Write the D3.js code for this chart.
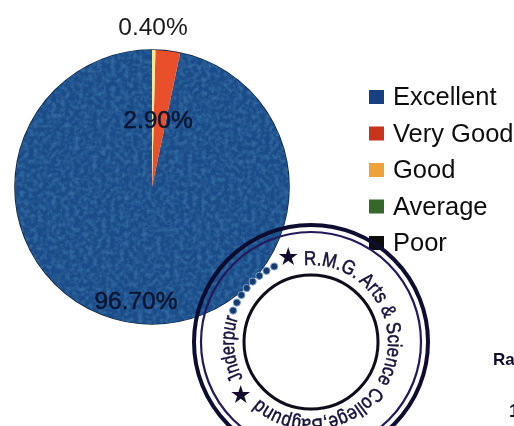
<!DOCTYPE html>
<html lang="en">
<head>
    <meta charset="UTF-8">
    <title>Feedback pie</title>
    <script src="https://d3js.org/d3.v7.min.js"></script>
    <style>
        html, body { margin: 0; padding: 0; background: #fff; overflow: hidden; }
        svg { display: block; font-family: 'Liberation Sans', Arial, sans-serif; }
    </style>
</head>
<body>
    <svg width="514" height="426"></svg>
    <script>
        // values
        const categories = ["Excellent", "Very Good", "Good", "Average", "Poor"];
        const percents = [96.7, 2.9, 0.4, 0, 0];
        const labels = ["96.70%", "2.90%", "0.40%", "", ""];
        const colors = ["#1b4c8a", "#e8502a", "#f8e78f", "#3c6b2e", "#111111"];
        const legendColors = ["#14417f", "#c8351f", "#eda23a", "#35682c", "#111111"];

        // stamp wording, as far as it can be read
        const stampMain = "R.M.G. Arts & Science College,Bagpund";
        const stampLeft = "Jnderpur";
        const stampStars = [345, 233];
        const stampDots = [292, 298, 304, 310, 316, 322, 328, 334];

        const svg = d3.select("svg");
        const cx = 152, cy = 187, radius = 137;
        const defs = svg.append("defs");

        // scan look: slight blur and mottled print on the pie
        const soft = defs.append("filter").attr("id", "soft");
        soft.append("feGaussianBlur").attr("stdDeviation", 0.55);

        const grain = defs.append("filter").attr("id", "grain")
            .attr("x", "-5%").attr("y", "-5%").attr("width", "110%").attr("height", "110%");
        grain.append("feTurbulence").attr("type", "fractalNoise").attr("baseFrequency", 0.22)
            .attr("numOctaves", 3).attr("seed", 4).attr("result", "noise");
        grain.append("feColorMatrix").attr("in", "noise").attr("type", "matrix")
            .attr("values", "0 0 0 0 0.03  0 0 0 0 0.14  0 0 0 0 0.34  0 0 0 2.6 -1.0")
            .attr("result", "spots");
        grain.append("feComposite").attr("in", "spots").attr("in2", "SourceAlpha")
            .attr("operator", "in").attr("result", "clipped");
        const grainMerge = grain.append("feMerge");
        grainMerge.append("feMergeNode").attr("in", "SourceGraphic");
        grainMerge.append("feMergeNode").attr("in", "clipped");

        const page = svg.append("g").attr("filter", "url(#soft)");

        // slices run anticlockwise from 12 o'clock, as in the scan
        const pie = d3.pie().sort(null).startAngle(2 * Math.PI).endAngle(0);
        const arc = d3.arc().innerRadius(0).outerRadius(radius);
        const arcs = pie(percents);

        const chart = page.append("g").attr("transform", `translate(${cx},${cy})`);
        chart.append("circle").attr("r", radius).attr("fill", "none")
            .attr("stroke", "#0e2038").attr("stroke-width", 1.6);
        chart.selectAll("path")
            .data(arcs.filter(d => d.value > 0))
            .enter()
            .append("path")
            .attr("d", arc)
            .attr("fill", (d, i) => colors[i])
            .attr("filter", (d, i) => i === 0 ? "url(#grain)" : null);

        // labels
        page.append("text").attr("x", 153).attr("y", 35).attr("text-anchor", "middle")
            .attr("font-size", 24.5).attr("fill", "#1a1a1a").text(labels[2]);
        page.append("text").attr("x", 158).attr("y", 128).attr("text-anchor", "middle")
            .attr("font-size", 24.5).attr("fill", "#0a1630")
            .attr("stroke", "#0a1630").attr("stroke-width", 0.5).text(labels[1]);
        page.append("text").attr("x", 136).attr("y", 309).attr("text-anchor", "middle")
            .attr("font-size", 24.5).attr("fill", "#0a1630")
            .attr("stroke", "#0a1630").attr("stroke-width", 0.5).text(labels[0]);

        // legend
        const legendY = d3.scalePoint().domain(categories).range([97, 243]);
        const legend = page.selectAll("g.legend")
            .data(categories)
            .enter()
            .append("g")
            .attr("class", "legend")
            .attr("transform", d => `translate(369,${legendY(d)})`);
        legend.append("rect")
            .attr("x", 0).attr("y", -7).attr("width", 15).attr("height", 14)
            .attr("fill", (d, i) => legendColors[i]);
        legend.append("text")
            .attr("x", 24).attr("y", 8)
            .attr("font-size", 25.5).attr("fill", "#111")
            .text(d => d);

        // stamp over the chart
        const sx = 311, sy = 342;
        const polar = (deg, r) => {
            const a = deg * Math.PI / 180;
            return [r * Math.sin(a), -r * Math.cos(a)];
        };
        const stamp = page.append("g").attr("transform", `translate(${sx},${sy})`);
        stamp.append("circle").attr("r", 117).attr("fill", "none")
            .attr("stroke", "#100c30").attr("stroke-width", 4);
        stamp.append("circle").attr("r", 110).attr("fill", "none")
            .attr("stroke", "#221a5c").attr("stroke-width", 2.2);
        stamp.append("circle").attr("r", 67).attr("fill", "none")
            .attr("stroke", "#0d0d1a").attr("stroke-width", 3);

        // text paths start at the angle of the first letter and run clockwise
        const ringPath = (from, to, r) => {
            const [x0, y0] = polar(from, r), [x1, y1] = polar(to, r);
            const large = ((to - from + 360) % 360) > 180 ? 1 : 0;
            return `M${x0},${y0} A${r},${r} 0 ${large} 1 ${x1},${y1}`;
        };
        defs.append("path").attr("id", "stampMainPath").attr("d", ringPath(-5, 224, 77));
        defs.append("path").attr("id", "stampLeftPath").attr("d", ringPath(242, 290, 77));

        stamp.append("text").attr("font-size", 20).attr("fill", "#15123a")
            .attr("stroke", "#15123a").attr("stroke-width", 0.5)
            .append("textPath").attr("href", "#stampMainPath")
            .attr("textLength", 305).attr("lengthAdjust", "spacingAndGlyphs")
            .text(stampMain);
        stamp.append("text").attr("font-size", 20).attr("fill", "#15123a")
            .attr("stroke", "#15123a").attr("stroke-width", 0.5)
            .append("textPath").attr("href", "#stampLeftPath")
            .attr("textLength", 62).attr("lengthAdjust", "spacingAndGlyphs")
            .text(stampLeft);

        stamp.selectAll("path.star")
            .data(stampStars)
            .enter()
            .append("path")
            .attr("class", "star")
            .attr("d", d3.symbol(d3.symbolStar, 110))
            .attr("fill", "#12102e")
            .attr("transform", d => `translate(${polar(d, 88)})`);

        // letters lost on the dark pie, only their pale edges show
        stamp.selectAll("circle.dot")
            .data(stampDots)
            .enter()
            .append("circle")
            .attr("class", "dot")
            .attr("r", 3.6)
            .attr("fill", "#123a70")
            .attr("stroke", "#7da0c8")
            .attr("stroke-width", 1)
            .attr("cx", d => polar(d, 84)[0])
            .attr("cy", d => polar(d, 84)[1]);

        // bits of the page text at the right edge
        page.append("text").attr("x", 493).attr("y", 365).attr("font-size", 17)
            .attr("font-weight", "bold").attr("fill", "#12102e").text("Ra");
        page.append("text").attr("x", 509).attr("y", 417).attr("font-size", 19)
            .attr("font-weight", "bold").attr("fill", "#12102e").text("1");
    </script>
</body>
</html>
